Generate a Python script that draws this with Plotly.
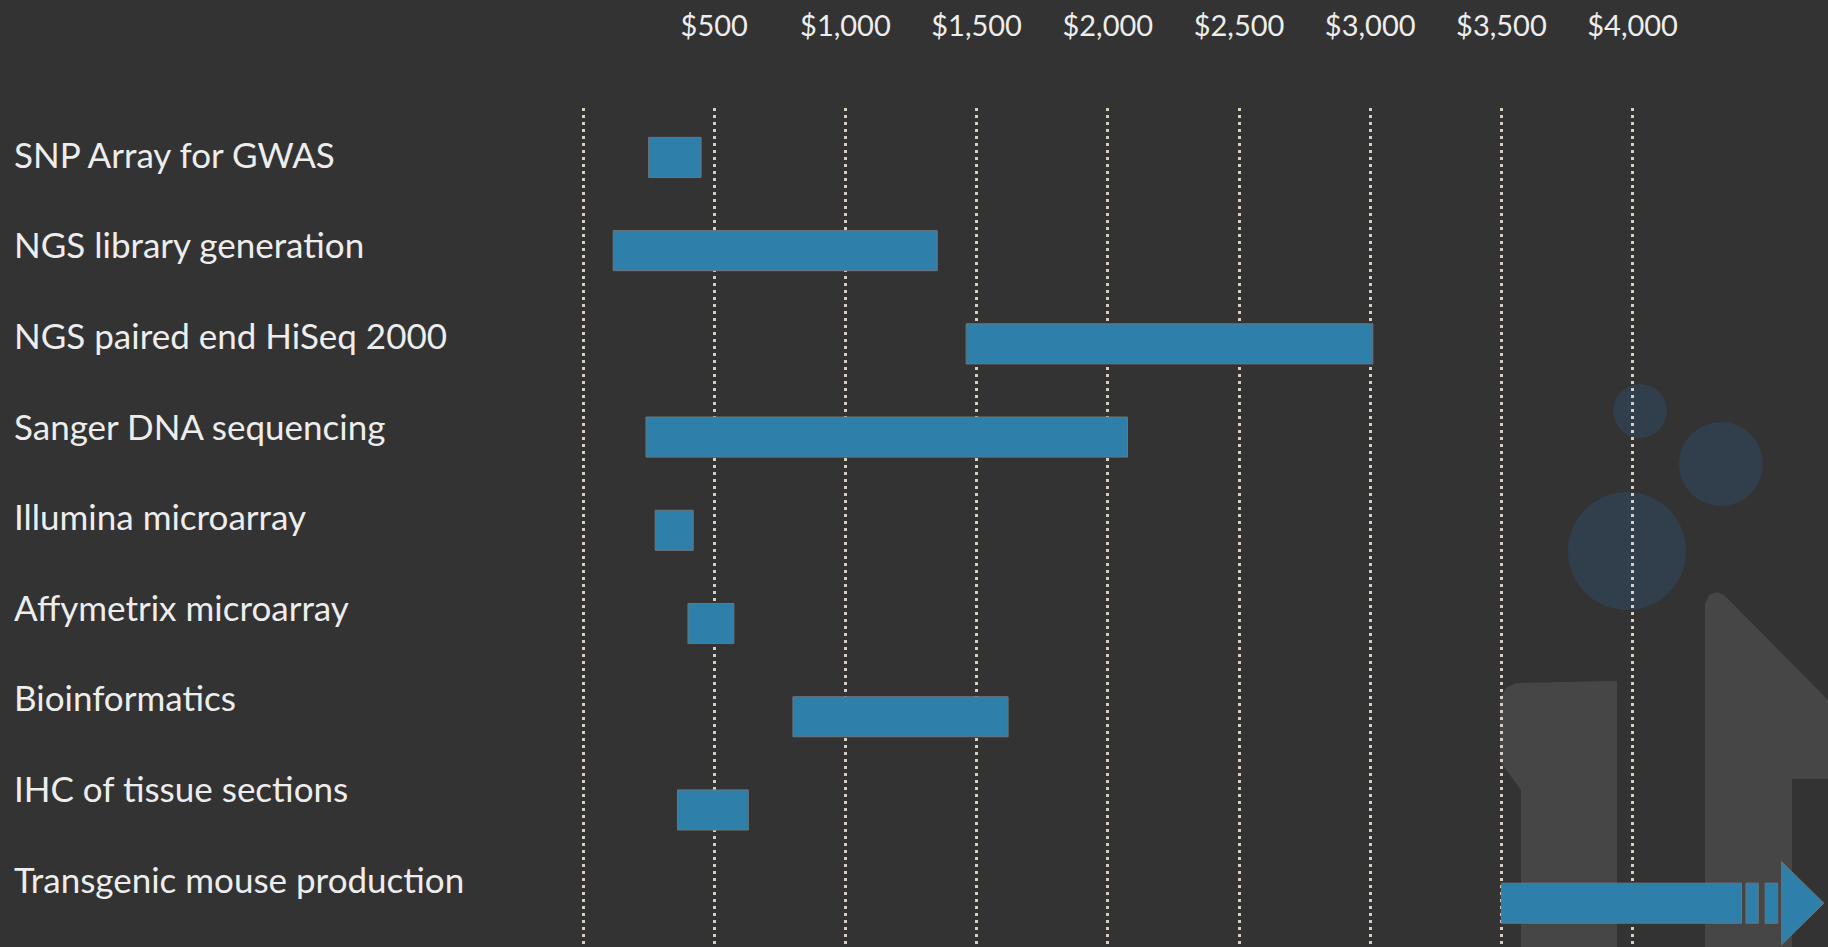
import plotly.graph_objects as go

# ---------------- data ----------------
categories = [
    "SNP Array for GWAS",
    "NGS library generation",
    "NGS paired end HiSeq 2000",
    "Sanger DNA sequencing",
    "Illumina microarray",
    "Affymetrix microarray",
    "Bioinformatics",
    "IHC of tissue sections",
    "Transgenic mouse production",
]
cost_low = [250, 115, 1460, 240, 275, 400, 800, 360, 3500]
cost_high = [450, 1350, 3010, 2075, 420, 575, 1620, 630, 4415]

# open-ended "continues beyond" marks for the last row (in $)
break_starts = [4432, 4505]
break_ends = [4479, 4553]
arrow_start = 4568
arrow_tip = 4729

tick_values = [0, 500, 1000, 1500, 2000, 2500, 3000, 3500, 4000]
tick_labels = ["", "$500", "$1,000", "$1,500", "$2,000", "$2,500", "$3,000", "$3,500", "$4,000"]

# ---------------- style ----------------
W, H = 1828, 947
ML, MT = 578, 108
PX_PER_DOLLAR = 131.2 / 500.0
X0 = -(583 - ML) / PX_PER_DOLLAR
X1 = X0 + (W - ML) / PX_PER_DOLLAR
BG = "#333333"
BAR = "#2e7fa9"
BAR_LINE = "#6c767c"
TEXT = "#ededed"
GRID = "#d6cfbf"
FONT = "Lato"

PW, PH = W - ML, H - MT


def px(x):
    return (x - ML) / PW


def py(y):
    return (H - y) / PH


rows = list(range(len(categories)))

fig = go.Figure()

fig.add_trace(go.Bar(
    orientation="h",
    y=rows,
    base=cost_low,
    x=[h - l for l, h in zip(cost_low, cost_high)],
    width=0.43,
    marker=dict(color=BAR, line=dict(color=BAR_LINE, width=1)),
    hovertext=categories,
    showlegend=False,
))

last = rows[-1]
fig.add_trace(go.Bar(
    orientation="h",
    y=[last] * len(break_starts),
    base=break_starts,
    x=[e - s for s, e in zip(break_starts, break_ends)],
    width=0.43,
    marker=dict(color=BAR, line=dict(color=BAR_LINE, width=1)),
    showlegend=False,
    hoverinfo="skip",
))

fig.add_trace(go.Scatter(
    x=[arrow_start, arrow_tip, arrow_start, arrow_start],
    y=[last - 0.445, last, last + 0.445, last - 0.445],
    mode="lines",
    fill="toself",
    fillcolor=BAR,
    line=dict(color=BAR_LINE, width=1),
    showlegend=False,
    hoverinfo="skip",
))

# category labels, left aligned (slightly tighter spacing than the bars, as in the slide)
for r, name in zip(rows, categories):
    fig.add_annotation(
        x=px(12), xref="paper", y=r * 0.972 - 0.04, yref="y",
        text=name, showarrow=False, xanchor="left", yanchor="middle",
        font=dict(family=FONT, size=35, color=TEXT),
    )

# decorative logo in the lower right
shapes = []
logo_grey = "#464646"
logo_blue = "#313f4c"


def path(points):
    return "M " + " L ".join(f"{px(x):.5f},{py(y):.5f}" for x, y in points) + " Z"


shapes.append(dict(type="path", xref="paper", yref="paper", layer="below",
                   path=path([(1500, 947), (1500, 698), (1507, 687), (1517, 683), (1617, 681),
                              (1617, 947)]),
                   fillcolor=logo_grey, line=dict(width=0)))
shapes.append(dict(type="path", xref="paper", yref="paper", layer="below",
                   path=path([(1705, 947), (1705, 604), (1709, 595), (1717, 592), (1724, 595),
                              (1828, 700), (1828, 779), (1792, 779), (1792, 947)]),
                   fillcolor=logo_grey, line=dict(width=0)))
shapes.append(dict(type="path", xref="paper", yref="paper", layer="below",
                   path=path([(1499, 760), (1521, 790), (1521, 947), (1499, 947)]),
                   fillcolor=BG, line=dict(width=0)))
for cx, cy, r in [(1640, 411, 27), (1721, 464, 42), (1627, 551, 59)]:
    shapes.append(dict(type="circle", xref="paper", yref="paper", layer="below",
                       x0=px(cx - r), x1=px(cx + r), y0=py(cy + r), y1=py(cy - r),
                       fillcolor=logo_blue, line=dict(width=0)))

fig.update_layout(
    width=W, height=H,
    margin=dict(l=ML, r=0, t=MT, b=0, pad=0),
    paper_bgcolor=BG,
    plot_bgcolor="rgba(0,0,0,0)",
    shapes=shapes,
    barmode="overlay",
    font=dict(family=FONT, color=TEXT),
    xaxis=dict(
        range=[X0, X1],
        side="top",
        tickmode="array",
        tickvals=tick_values,
        ticktext=tick_labels,
        tickfont=dict(family=FONT, size=29, color=TEXT),
        ticks="",
        ticklabelstandoff=65,
        showgrid=True,
        gridcolor=GRID,
        gridwidth=2.5,
        griddash="3px,4px",
        zeroline=False,
        showline=False,
        fixedrange=True,
    ),
    yaxis=dict(
        range=[8.47, -0.53],
        showticklabels=False,
        showgrid=False,
        zeroline=False,
        showline=False,
        fixedrange=True,
    ),
)

fig.write_html("out.html", config={"displayModeBar": False})
